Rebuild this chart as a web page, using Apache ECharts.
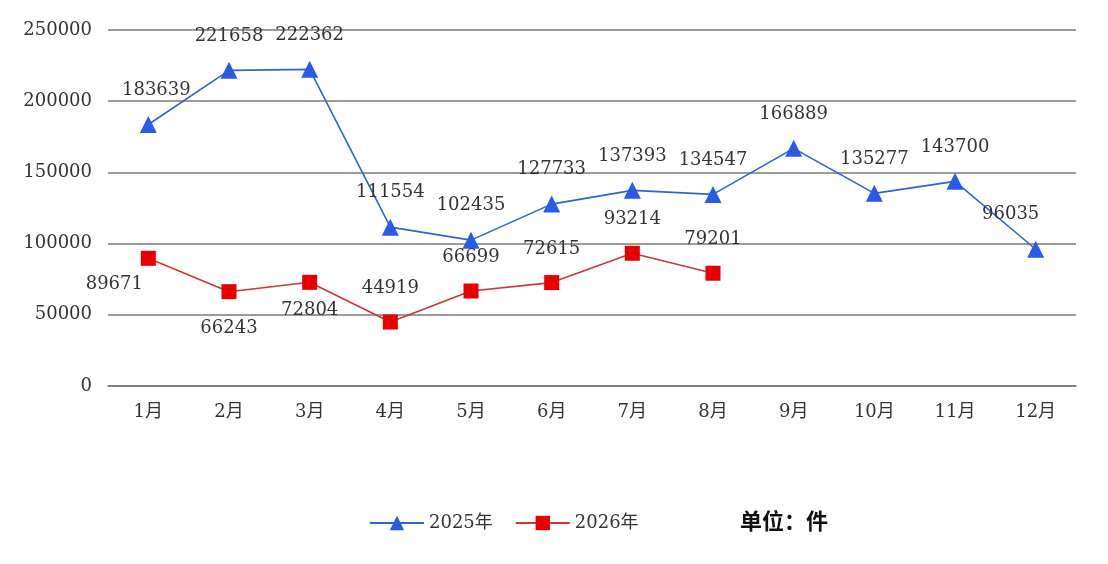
<!DOCTYPE html>
<html>
<head>
<meta charset="utf-8">
<script src="https://cdn.jsdelivr.net/npm/echarts@6/dist/echarts.min.js"></script>
<style>
  html, body { margin: 0; padding: 0; background: #fff; }
  #chart { width: 1108px; height: 564px; }
</style>
</head>
<body>
<div id="chart"></div>
<script>
"use strict";

const months = ["1月", "2月", "3月", "4月", "5月", "6月", "7月", "8月", "9月", "10月", "11月", "12月"];
const y2025 = [183639, 221658, 222362, 111554, 102435, 127733, 137393, 134547, 166889, 135277, 143700, 96035];
const y2026 = [89671, 66243, 72804, 44919, 66699, 72615, 93214, 79201];
const yTicks = [0, 50000, 100000, 150000, 200000, 250000];

// 每个点的标签偏移 [dx, dy]
const off2025 = [[8, 0], [0, 0], [0, 0], [0, 0], [0, 0], [0, 0], [0, 0], [0, 0], [0, 0], [0, 0], [0, 0], [-25, 0]];
const off2026 = [[-34, 60], [0, 70], [0, 62], [0, 0], [0, 0], [0, 0], [0, 0], [0, 0]];

const FONT = "'DejaVu Serif', 'Noto Sans CJK SC', serif";

const chart = echarts.init(document.getElementById("chart"));

function withLabels(values, offs) {
  return values.map((v, i) => ({
    value: v,
    label: { offset: offs[i] }
  }));
}

chart.setOption({
  backgroundColor: "#fff",
  animation: false,
  grid: { left: 108, right: 32, top: 30, bottom: 178 },
  legend: {
    data: ["2025年", "2026年"],
    left: 364, top: 509,
    itemWidth: 54, itemHeight: 18, itemGap: 22,
    textStyle: { fontFamily: FONT, fontSize: 18, color: "#333" }
  },
  graphic: [{
    type: "text", left: 740, top: 510,
    style: { text: "单位：件", font: "bold 22px 'Noto Sans CJK SC'", fill: "#111" }
  }],
  xAxis: {
    type: "category", data: months,
    axisLine: { lineStyle: { color: "#7a7a7a", width: 1.5 } },
    axisTick: { show: false },
    axisLabel: { fontFamily: FONT, fontSize: 18, color: "#333", margin: 17 }
  },
  yAxis: {
    type: "value", min: yTicks[0], max: yTicks[yTicks.length - 1], interval: 50000,
    axisLine: { show: false },
    axisTick: { show: false },
    axisLabel: { fontFamily: FONT, fontSize: 18, color: "#333", margin: 16, formatter: v => String(v) },
    splitLine: { lineStyle: { color: "#7a7a7a", width: 1.5 } }
  },
  series: [
    {
      name: "2025年", type: "line",
      data: withLabels(y2025, off2025),
      symbol: "triangle", symbolSize: 17,
      lineStyle: { color: "#2f62d6", width: 1.6 },
      itemStyle: { color: "#2a5ae8" },
      label: {
        show: true, position: "top", distance: 17,
        fontFamily: FONT, fontSize: 18, color: "#333"
      }
    },
    {
      name: "2026年", type: "line",
      data: withLabels(y2026, off2026),
      symbol: "rect", symbolSize: 15,
      lineStyle: { color: "#d03535", width: 1.6 },
      itemStyle: { color: "#e60000" },
      label: {
        show: true, position: "top", distance: 17,
        fontFamily: FONT, fontSize: 18, color: "#333"
      }
    }
  ]
});
</script>
</body>
</html>
